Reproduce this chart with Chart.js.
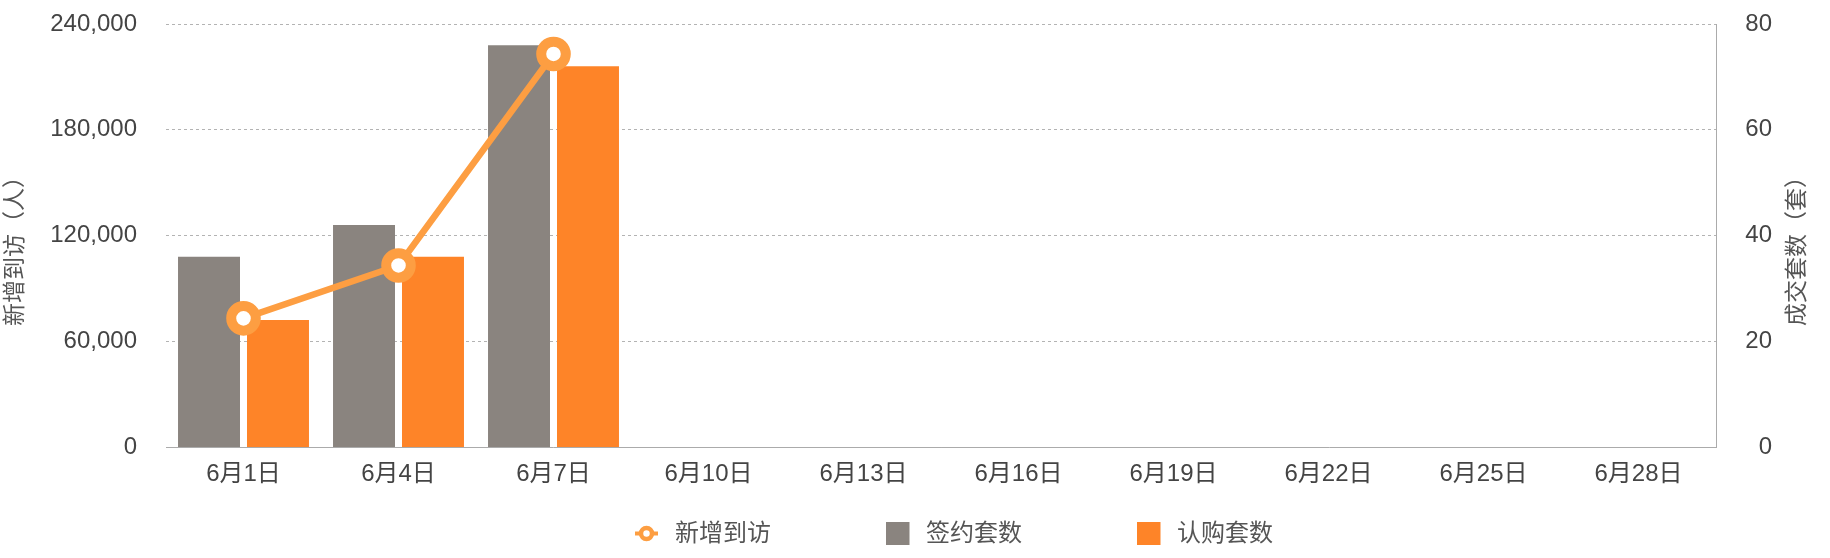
<!DOCTYPE html>
<html>
<head>
<meta charset="utf-8">
<script src="https://cdn.jsdelivr.net/npm/chart.js@4/dist/chart.umd.min.js"></script>
<style>
html,body{margin:0;padding:0;background:#fff;}
#wrap{width:1830px;height:558px;position:relative;}
</style>
</head>
<body>
<div id="wrap"><canvas id="c" width="1830" height="558"></canvas></div>
<script>
const categories = ['6月1日','6月4日','6月7日','6月10日','6月13日','6月16日','6月19日','6月22日','6月25日','6月28日'];
const visitors = [73000, 103000, 223000, null, null, null, null, null, null, null];
const signed = [36, 42, 76, null, null, null, null, null, null, null];
const subscribed = [24, 36, 72, null, null, null, null, null, null, null];
const leftTicks = [0, 60000, 120000, 180000, 240000];
const rightTicks = [0, 20, 40, 60, 80];
const leftTitle = '新增到访（人）';
const rightTitle = '成交套数（套）';
const seriesNames = ['新增到访', '签约套数', '认购套数'];

const FONT = "'Liberation Sans', 'Noto Sans CJK SC', sans-serif";
const GRAY = '#8a847f';
const ORANGE = '#fe8428';
const LINE = '#fd9e42';

const extras = {
  id: 'extras',
  afterDraw(chart) {
    const ctx = chart.ctx;
    const area = chart.chartArea;
    ctx.save();
    ctx.fillStyle = '#555';
    ctx.font = '23px ' + FONT;
    ctx.textAlign = 'center';
    ctx.textBaseline = 'middle';
    const cy = (area.top + area.bottom) / 2 + 10;
    [[16, leftTitle], [1798, rightTitle]].forEach(([x, t]) => {
      ctx.save();
      ctx.translate(x, cy);
      ctx.rotate(-Math.PI / 2);
      ctx.fillText(t, 0, 0);
      ctx.restore();
    });
    const ly = 533.5;
    const ds = chart.data.datasets;
    ctx.font = '24px ' + FONT;
    ctx.textAlign = 'left';
    const starts = [635, 886, 1137];
    ds.forEach((d, i) => {
      const x0 = starts[i];
      if (d.type === 'line') {
        ctx.strokeStyle = d.borderColor;
        ctx.lineWidth = 4;
        ctx.beginPath();
        ctx.moveTo(x0, ly);
        ctx.lineTo(x0 + 23, ly);
        ctx.stroke();
        ctx.beginPath();
        ctx.arc(x0 + 11.5, ly, 5.5, 0, Math.PI * 2);
        ctx.fillStyle = '#fff';
        ctx.fill();
        ctx.lineWidth = 4.5;
        ctx.stroke();
      } else {
        ctx.fillStyle = d.backgroundColor;
        ctx.fillRect(x0, ly - 11.5, 23.5, 23);
      }
      ctx.fillStyle = '#555';
      ctx.textBaseline = 'middle';
      ctx.fillText(d.label, x0 + 40, ly + 1);
    });
    ctx.restore();
  }
};

new Chart(document.getElementById('c'), {
  data: {
    labels: categories,
    datasets: [
      {
        type: 'line', label: seriesNames[0], data: visitors, yAxisID: 'y', order: 0,
        borderColor: LINE, backgroundColor: '#ffffff', borderWidth: 6.5,
        pointRadius: 12.3, pointBorderWidth: 10, pointBackgroundColor: '#ffffff',
        pointBorderColor: LINE, pointHoverRadius: 12.3, tension: 0, spanGaps: false, clip: false
      },
      {
        type: 'bar', label: seriesNames[1], data: signed, yAxisID: 'y1', order: 1,
        backgroundColor: GRAY, borderWidth: 0,
        categoryPercentage: 0.89, barPercentage: 0.8986
      },
      {
        type: 'bar', label: seriesNames[2], data: subscribed, yAxisID: 'y1', order: 1,
        backgroundColor: ORANGE, borderWidth: 0,
        categoryPercentage: 0.89, barPercentage: 0.8986
      }
    ]
  },
  options: {
    responsive: false,
    animation: false,
    locale: 'en-US',
    layout: { autoPadding: false, padding: { left: 0, right: 58, top: 24, bottom: 61 } },
    plugins: { legend: { display: false }, tooltip: { enabled: false } },
    scales: {
      x: {
        type: 'category',
        offset: true,
        grid: { display: false, drawTicks: false },
        border: { display: true, color: '#ababab', width: 1 },
        ticks: { color: '#444', font: { size: 24, family: FONT }, padding: 13, maxRotation: 0, autoSkip: false },
        afterFit(s) { s.height = 50; }
      },
      y: {
        position: 'left',
        min: leftTicks[0], max: leftTicks[leftTicks.length - 1],
        afterBuildTicks(s) { s.ticks = leftTicks.map(v => ({ value: v })); },
        grid: { color: '#b3b3b3', lineWidth: 1, drawTicks: false },
        border: { display: false, dash: [3, 3] },
        ticks: { color: '#444', font: { size: 24, family: FONT }, padding: 29 },
        afterFit(s) { s.width = 166; s.paddingTop = 0; s.paddingBottom = 0; }
      },
      y1: {
        position: 'right',
        min: rightTicks[0], max: rightTicks[rightTicks.length - 1],
        afterBuildTicks(s) { s.ticks = rightTicks.map(v => ({ value: v })); },
        grid: { display: false, drawTicks: false },
        border: { display: true, color: '#ababab', width: 1 },
        ticks: { color: '#444', font: { size: 24, family: FONT }, padding: 29, crossAlign: 'far' },
        afterFit(s) { s.width = 56; s.paddingTop = 0; s.paddingBottom = 0; }
      }
    }
  },
  plugins: [extras]
});
</script>
</body>
</html>
